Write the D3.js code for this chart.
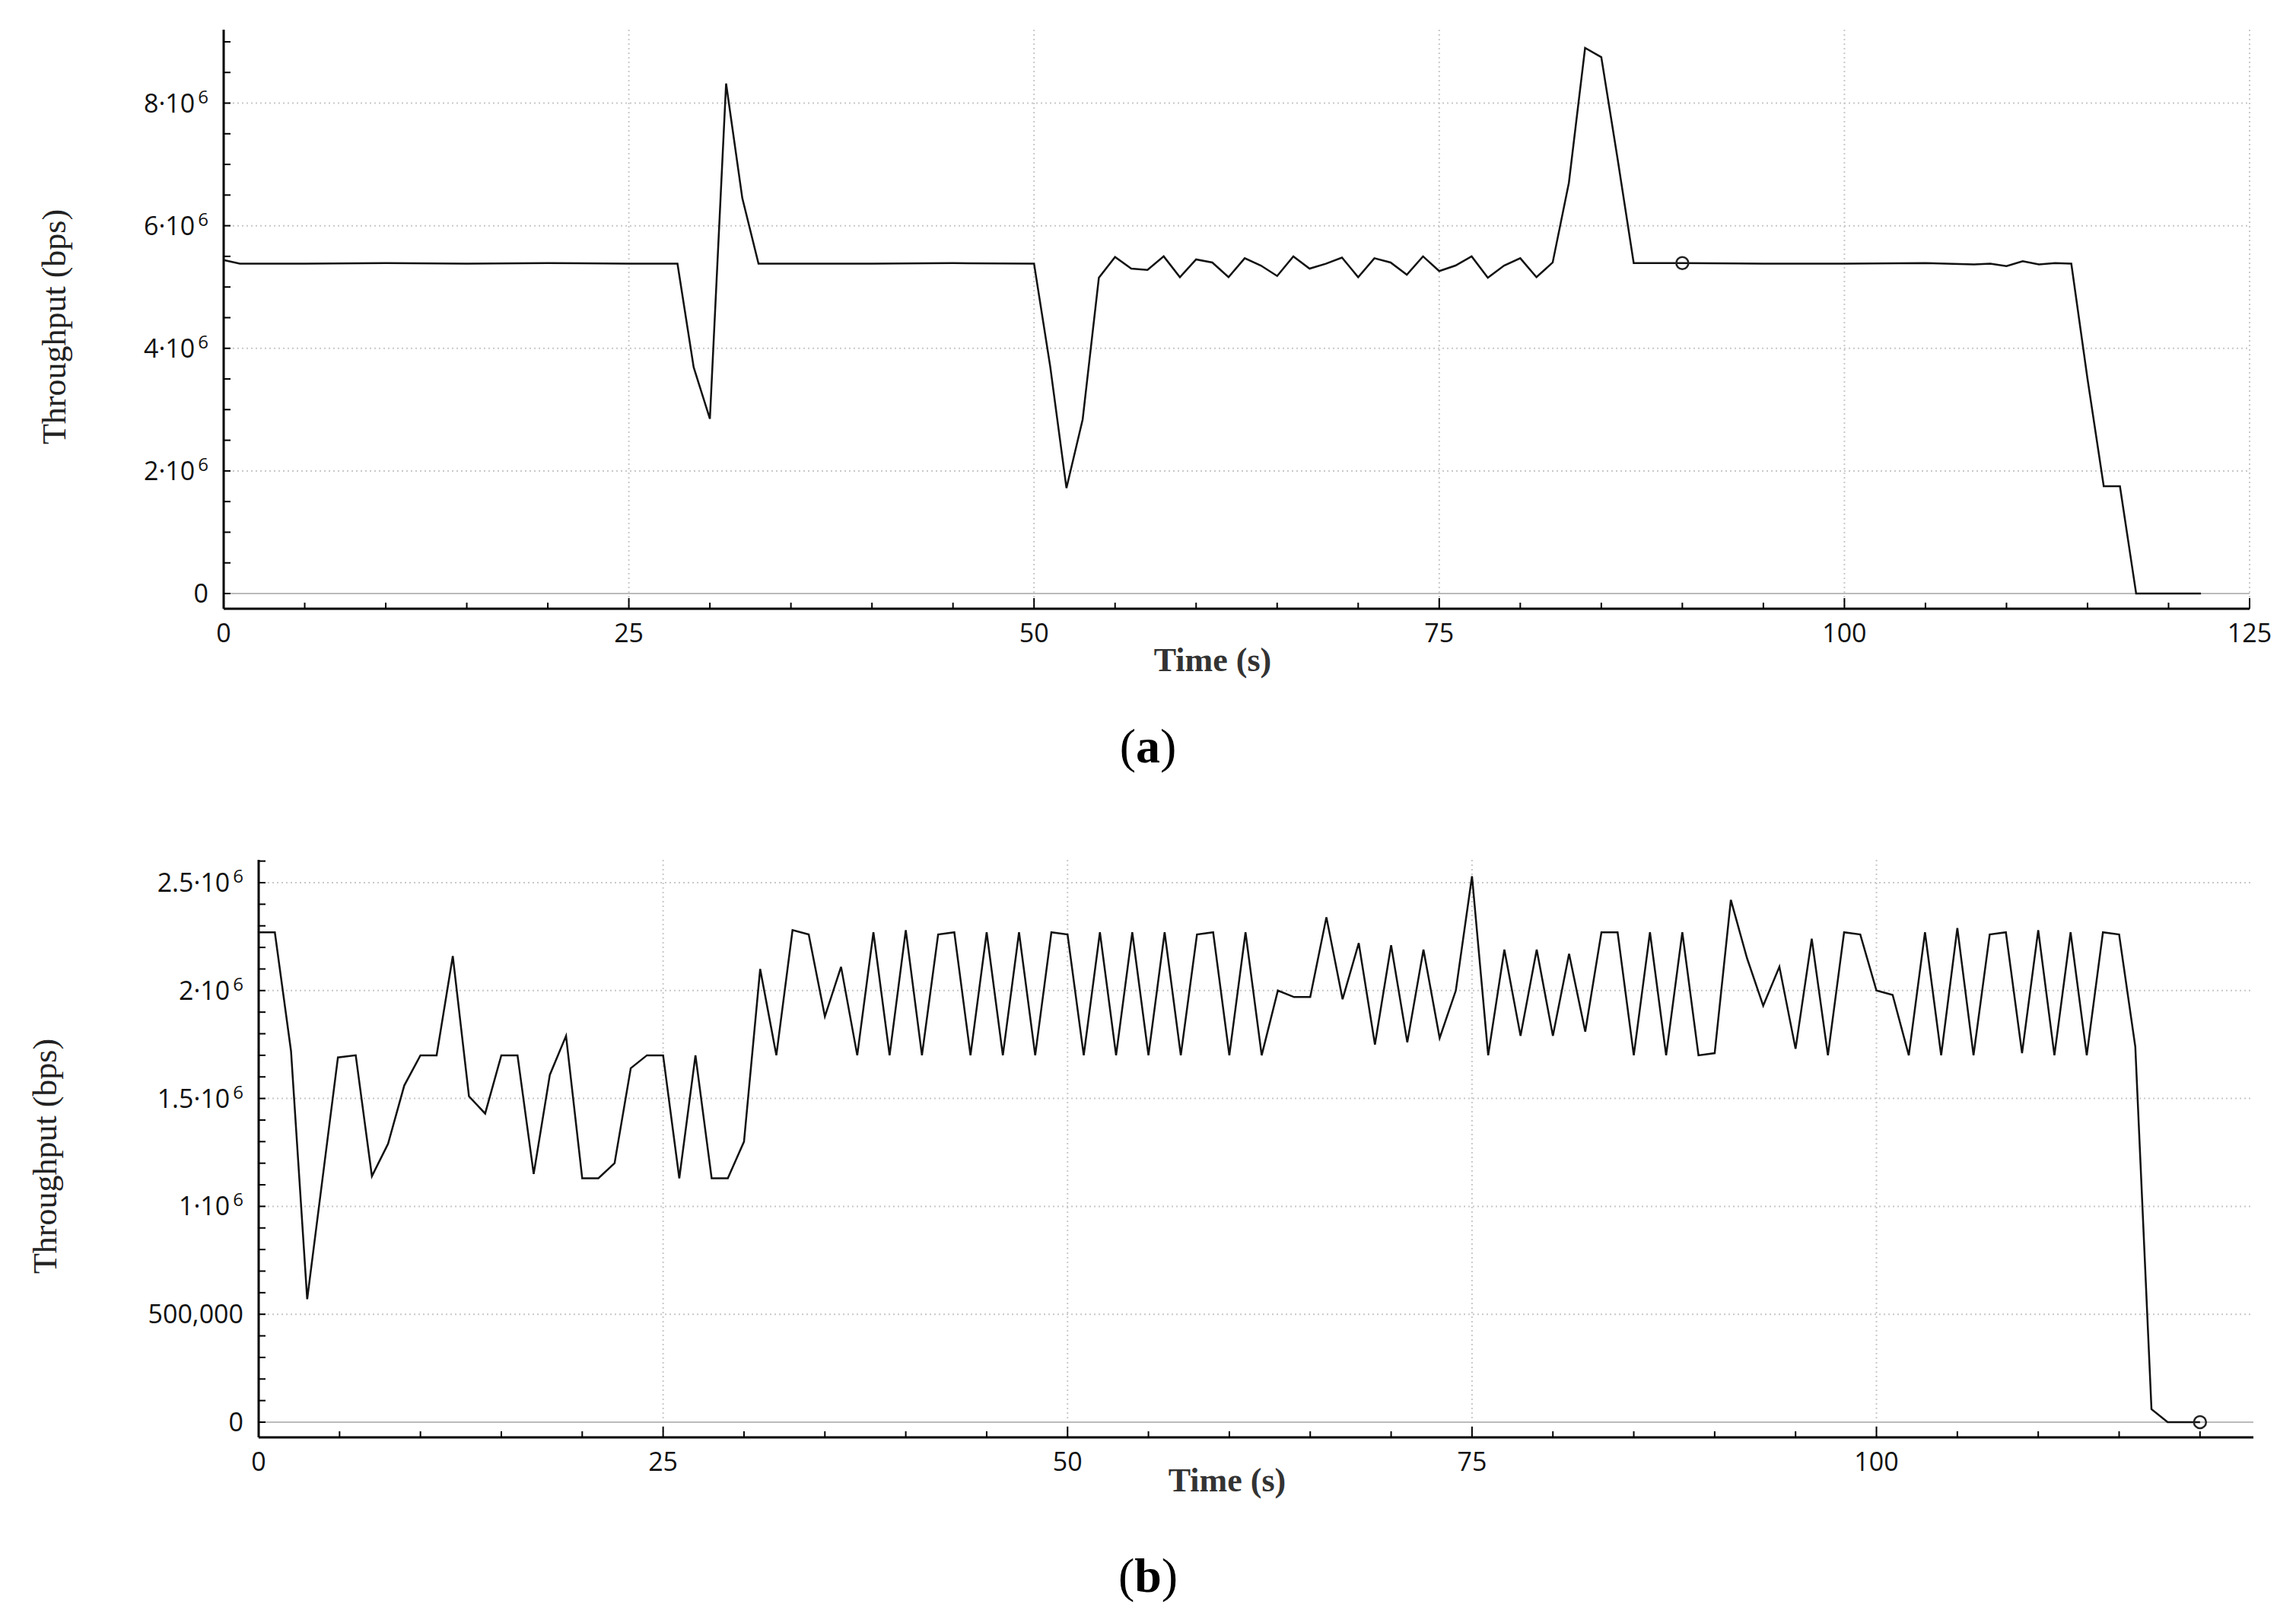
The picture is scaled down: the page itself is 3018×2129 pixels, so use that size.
<!DOCTYPE html>
<html>
<head>
<meta charset="utf-8">
<script src="https://cdn.jsdelivr.net/npm/d3@7"></script>
<style>
body { margin: 0; background: #fff; }
svg { display: block; }
</style>
</head>
<body>
<svg id="fig"></svg>
<script>
var width = 3018, height = 2129;

// panel (a): time (s) and throughput (x1e6 bps)
var timeA = [0,1,2,5,10,15,20,25,28,29,30,31,32,33,40,45,50,51,52,53,54,55,56,57,58,59,60,61,62,63,64,65,66,67,68,69,70,71,72,73,74,75,76,77,78,79,80,81,82,83,84,85,86,87,90,95,100,105,108,109,110,111,112,113,114,115,116,117,118,120,122];
var valA  = [5.44,5.38,5.38,5.38,5.39,5.38,5.39,5.38,5.38,3.69,2.85,8.32,6.45,5.38,5.38,5.39,5.38,3.7,1.72,2.84,5.15,5.49,5.3,5.28,5.5,5.16,5.45,5.4,5.16,5.47,5.35,5.18,5.5,5.3,5.38,5.48,5.16,5.47,5.4,5.2,5.5,5.26,5.35,5.5,5.15,5.35,5.47,5.16,5.4,6.7,8.9,8.75,7.1,5.39,5.39,5.38,5.38,5.39,5.37,5.38,5.34,5.42,5.37,5.39,5.38,3.5,1.75,1.75,0,0,0];
var markerA = [90, 5.39];
var yTicksA = [0,2,4,6,8];
var yLabelsA = [["0",""],["2·10","6"],["4·10","6"],["6·10","6"],["8·10","6"]];
var xTicksA = [0,25,50,75,100,125];

// panel (b)
var timeB = [0,1,2,3,4.9,6,7,8,9,10,11,12,13,14,15,16,17,18,19,20,21,22,23,24,25,26,27,28,29,30,31,32,33,34,35,36,37,38,39,40,41,42,43,44,45,46,47,48,49,50,51,52,53,54,55,56,57,58,59,60,61,62,63,64,65,66,67,68,69,70,71,72,73,74,75,76,77,78,79,80,81,82,83,84,85,86,87,88,89,90,91,92,93,94,95,96,97,98,99,100,101,102,103,104,105,106,107,108,109,110,111,112,113,114,115,116,117,118,120];
var valB  = [2.27,2.27,1.72,0.57,1.69,1.70,1.14,1.29,1.56,1.70,1.70,2.16,1.51,1.43,1.70,1.70,1.15,1.61,1.79,1.13,1.13,1.20,1.64,1.70,1.70,1.13,1.70,1.13,1.13,1.30,2.10,1.70,2.28,2.26,1.88,2.11,1.70,2.27,1.70,2.28,1.70,2.26,2.27,1.70,2.27,1.70,2.27,1.70,2.27,2.26,1.70,2.27,1.70,2.27,1.70,2.27,1.70,2.26,2.27,1.70,2.27,1.70,2.00,1.97,1.97,2.34,1.96,2.22,1.75,2.21,1.76,2.19,1.78,2.00,2.53,1.70,2.19,1.79,2.19,1.79,2.17,1.81,2.27,2.27,1.70,2.27,1.70,2.27,1.70,1.71,2.42,2.15,1.93,2.11,1.73,2.24,1.70,2.27,2.26,2.00,1.98,1.70,2.27,1.70,2.29,1.70,2.26,2.27,1.71,2.28,1.70,2.27,1.70,2.27,2.26,1.74,0.06,0,0];
var markerB = [120, 0];
var yTicksB = [0,0.5,1,1.5,2,2.5];
var yLabelsB = [["0",""],["500,000",""],["1·10","6"],["1.5·10","6"],["2·10","6"],["2.5·10","6"]];
var xTicksB = [0,25,50,75,100];

const svg = d3.select('#fig').attr('width', width).attr('height', height);

drawPanel({
    time: timeA, val: valA, marker: markerA,
    xDomain: [0,125], xRange: [294,2957], xMinor: 5, xTicks: xTicksA,
    yDomain: [0,8], yRange: [780,135.5], yMinor: 0.5, yTicks: yTicksA, yLabels: yLabelsA,
    axisY: 800, top: 39, right: 2957,
    titleX: 1594, titleY: 882, ylabX: 86, caption: "(a)", capY: 1002
});

drawPanel({
    time: timeB, val: valB, marker: markerB,
    xDomain: [0,123.3], xRange: [340,2962], xMinor: 5, xTicks: xTicksB,
    yDomain: [0,2.5], yRange: [1869,1160], yMinor: 0.1, yTicks: yTicksB, yLabels: yLabelsB,
    axisY: 1889, top: 1130, right: 2962,
    titleX: 1613, titleY: 1960, ylabX: 74, caption: "(b)", capY: 2092
});

function drawPanel(p){
    var x = d3.scaleLinear().domain(p.xDomain).range(p.xRange);
    var y = d3.scaleLinear().domain(p.yDomain).range(p.yRange);
    var g = svg.append("g");
    var x0 = x(0);

    // dotted grid
    g.selectAll(".gx").data(p.xTicks.slice(1)).enter().append("line")
        .attr("x1", d => x(d)).attr("x2", d => x(d))
        .attr("y1", p.top).attr("y2", p.axisY)
        .style("stroke", "#c8c8c8").style("stroke-width", 2).style("stroke-dasharray", "2,4");
    g.selectAll(".gy").data(p.yTicks.slice(1)).enter().append("line")
        .attr("x1", x0).attr("x2", p.right)
        .attr("y1", d => y(d)).attr("y2", d => y(d))
        .style("stroke", "#c8c8c8").style("stroke-width", 2).style("stroke-dasharray", "2,4");
    // zero line
    g.append("line").attr("x1", x0).attr("x2", p.right)
        .attr("y1", y(0)).attr("y2", y(0))
        .style("stroke", "#bbb").style("stroke-width", 2);

    // minor ticks
    var xm = d3.range(p.xDomain[0], p.xDomain[1] + 0.001, p.xMinor);
    g.selectAll(".mx").data(xm).enter().append("line")
        .attr("x1", d => x(d)).attr("x2", d => x(d))
        .attr("y1", p.axisY).attr("y2", d => p.xTicks.indexOf(d) >= 0 ? p.axisY - 14 : p.axisY - 8)
        .style("stroke", "#000").style("stroke-width", 2);
    var yTop = y.invert(p.top);
    var ym = d3.range(0, yTop, p.yMinor);
    g.selectAll(".my").data(ym).enter().append("line")
        .attr("x1", x0).attr("x2", x0 + 9)
        .attr("y1", d => y(d)).attr("y2", d => y(d))
        .style("stroke", "#000").style("stroke-width", 2);

    // axes lines
    g.append("line").attr("x1", x0).attr("x2", p.right)
        .attr("y1", p.axisY).attr("y2", p.axisY)
        .style("stroke", "#000").style("stroke-width", 3);
    g.append("line").attr("x1", x0).attr("x2", x0)
        .attr("y1", p.top).attr("y2", p.axisY)
        .style("stroke", "#000").style("stroke-width", 3);

    // tick labels
    g.selectAll(".tx").data(p.xTicks).enter().append("text")
        .attr("x", d => x(d)).attr("y", p.axisY + 44)
        .attr("text-anchor", "middle")
        .style("font-family", "'Open Sans', 'DejaVu Sans', sans-serif")
        .style("font-size", "34px").style("fill", "#111")
        .text(d => d);
    var ty = g.selectAll(".ty").data(p.yTicks).enter().append("text")
        .attr("x", x0 - 20).attr("y", d => y(d) + 12)
        .attr("text-anchor", "end")
        .style("font-family", "'Open Sans', 'DejaVu Sans', sans-serif")
        .style("font-size", "34px").style("fill", "#111");
    ty.append("tspan").text((d,i) => p.yLabels[i][0]);
    ty.append("tspan").attr("dy", -12).attr("dx", 4).style("font-size", "24px").text((d,i) => p.yLabels[i][1]);

    // series
    var pts = p.time.map((t,i) => [t, p.val[i]]);
    g.append("path").datum(pts)
        .attr("d", d3.line().x(d => x(d[0])).y(d => y(d[1])))
        .style("fill", "none").style("stroke", "#111").style("stroke-width", 2.5);
    g.append("circle").attr("cx", x(p.marker[0])).attr("cy", y(p.marker[1])).attr("r", 8)
        .style("fill", "none").style("stroke", "#222").style("stroke-width", 2.5);

    // titles
    var serif = "'Liberation Serif', 'DejaVu Serif', serif";
    g.append("text").attr("x", p.titleX).attr("y", p.titleY)
        .attr("text-anchor", "middle")
        .style("font-family", serif).style("font-size", "44px").style("font-weight", "bold").style("fill", "#333")
        .text("Time (s)");
    var midY = (p.top + p.axisY) / 2 + 10;
    g.append("text").attr("transform", "translate(" + p.ylabX + "," + midY + ") rotate(-90)")
        .attr("text-anchor", "middle")
        .style("font-family", serif).style("font-size", "44px").style("fill", "#222")
        .text("Throughput (bps)");
    g.append("text").attr("x", width / 2).attr("y", p.capY)
        .attr("text-anchor", "middle")
        .style("font-family", serif).style("font-size", "64px").style("fill", "#000")
        .html("(<tspan font-weight='bold'>" + p.caption.slice(1, 2) + "</tspan>)");
}
</script>
</body>
</html>
